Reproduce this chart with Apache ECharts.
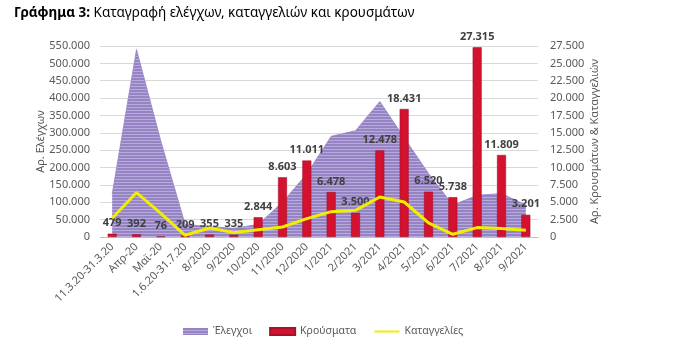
<!DOCTYPE html>
<html>
<head>
<meta charset="utf-8">
<script src="https://cdn.jsdelivr.net/npm/echarts@6/dist/echarts.min.js"></script>
<style>
html,body{margin:0;padding:0;background:#fff;}
#title{position:absolute;left:14px;top:3px;font-family:"Noto Sans",sans-serif;font-size:13.5px;color:#000;white-space:nowrap;}
#chart{position:absolute;left:0;top:0;width:685px;height:348px;}
</style>
</head>
<body>
<div id="chart"></div>
<div id="title"><b>Γράφημα 3:</b> Καταγραφή ελέγχων, καταγγελιών και κρουσμάτων</div>
<script>
var categories = ['11.3.20-31.3.20','Απρ-20','Μαϊ-20','1.6.20-31.7.20','8/2020','9/2020','10/2020','11/2020','12/2020','1/2021','2/2021','3/2021','4/2021','5/2021','6/2021','7/2021','8/2021','9/2021'];
var elegxoi = [123000, 540000, 276000, 36000, 30000, 25000, 36000, 100000, 182000, 290000, 306000, 390000, 286000, 183000, 92000, 120000, 125000, 92000];
var krousmata = [479, 392, 76, 209, 355, 335, 2844, 8603, 11011, 6478, 3500, 12478, 18431, 6520, 5738, 27315, 11809, 3201];
var katagelies = [2700, 6400, 3400, 250, 1300, 630, 1060, 1440, 2650, 3650, 3840, 5760, 5040, 2020, 390, 1350, 1210, 965];
var leftTicks = {min: 0, max: 550000, interval: 50000};
var rightTicks = {min: 0, max: 27500, interval: 2500};

function fmt(v){ return String(Math.round(v)).replace(/\B(?=(\d{3})+(?!\d))/g, '.'); }

var pc = document.createElement('canvas');
pc.width = 4; pc.height = 3;
var ctx = pc.getContext('2d');
ctx.fillStyle = '#9583c4'; ctx.fillRect(0,0,4,3);
ctx.fillStyle = '#b7abdb'; ctx.fillRect(0,2,4,1);
var pattern = {image: pc, repeat: 'repeat'};

var font = '"Noto Sans", sans-serif';
var chart = echarts.init(document.getElementById('chart'));
chart.setOption({
  animation: false,
  textStyle: {fontFamily: font},
  grid: {left: 100, right: 147, top: 46, bottom: 111, containLabel: false},
  legend: {
    left: 178, top: 321, itemWidth: 25, itemHeight: 7, itemGap: 17,
    textStyle: {color: '#595959', fontSize: 10.5, fontFamily: font},
    data: [
      {name: 'Έλεγχοι', icon: 'rect'},
      {name: 'Κρούσματα', icon: 'rect'},
      {name: 'Καταγγελίες', itemStyle: {opacity: 0}}
    ]
  },
  xAxis: {
    type: 'category', data: categories, boundaryGap: true,
    axisLine: {lineStyle: {color: '#bfbfbf', width: 1}},
    axisTick: {show: false},
    axisLabel: {rotate: 45, color: '#595959', fontSize: 11, interval: 0, margin: 8, fontFamily: font}
  },
  yAxis: [
    {
      type: 'value', min: leftTicks.min, max: leftTicks.max, interval: leftTicks.interval,
      name: 'Αρ. Ελέγχων', nameLocation: 'middle', nameGap: 54, nameRotate: 90, nameMoveOverlap: false,
      nameTextStyle: {color: '#595959', fontSize: 11, fontFamily: font},
      axisLine: {show: false}, axisTick: {show: false},
      axisLabel: {color: '#595959', fontSize: 11, margin: 10, formatter: fmt, fontFamily: font},
      splitLine: {lineStyle: {color: '#d9d9d9', width: 1}}
    },
    {
      type: 'value', min: rightTicks.min, max: rightTicks.max, interval: rightTicks.interval,
      name: 'Αρ. Κρουσμάτων & Καταγγελιών', nameLocation: 'middle', nameGap: 51, nameRotate: 90, nameMoveOverlap: false,
      nameTextStyle: {color: '#595959', fontSize: 11, fontFamily: font},
      axisLine: {show: false}, axisTick: {show: false},
      axisLabel: {color: '#595959', fontSize: 11, margin: 12, formatter: fmt, fontFamily: font},
      splitLine: {show: false}
    }
  ],
  series: [
    {
      name: 'Έλεγχοι', type: 'line', yAxisIndex: 0, data: elegxoi,
      symbol: 'none', lineStyle: {width: 0.8, color: '#9583c4'},
      itemStyle: {color: pattern},
      areaStyle: {color: pattern, opacity: 1}, z: 1
    },
    {
      name: 'Κρούσματα', type: 'bar', yAxisIndex: 1, data: krousmata,
      barWidth: 9,
      itemStyle: {color: '#d2122e', borderColor: '#a8102a', borderWidth: 0.6},
      label: {show: true, position: 'top', distance: 5, color: '#404040', fontSize: 11, fontWeight: 'bold', formatter: function(p){return fmt(p.value);}, fontFamily: font},
      z: 3
    },
    {
      name: 'Καταγγελίες', type: 'line', yAxisIndex: 1, data: katagelies,
      symbol: 'none', lineStyle: {width: 3, color: '#f2ee00'},
      itemStyle: {color: '#f2ee00'}, z: 4
    }
  ]
});
</script>
</body>
</html>
